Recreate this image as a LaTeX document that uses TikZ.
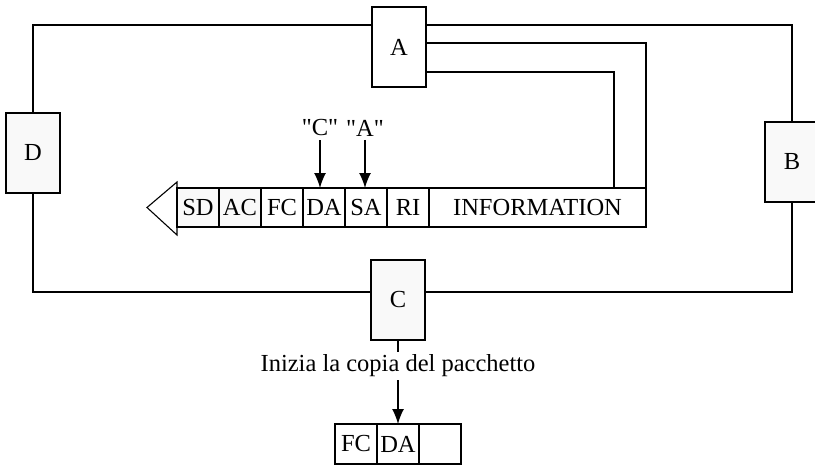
\documentclass[tikz,border=0pt]{standalone}
\usepackage{fontspec}
\setmainfont{Liberation Serif}
\usepackage{tikz}
\usetikzlibrary{arrows.meta,positioning,calc}

\tikzset{
  station/.style={draw,fill=gray!5,minimum width=54pt,minimum height=80pt,inner sep=0pt,outer sep=0pt},
  cell/.style={draw,minimum width=42pt,minimum height=39pt,inner sep=0pt,outer sep=0pt},
  arr/.style={-{Latex[length=15pt,width=12pt]},line width=1.4pt},
}

\begin{document}
\begin{tikzpicture}[x=1pt,y=-1pt,line width=1.1pt,node distance=0pt,
  font=\fontsize{24.5}{28}\selectfont]
\useasboundingbox (0,0) rectangle (815,466);
% stations on the ring
\node[station,fill=white] (a) at (399,47) {A};
\node[station] (d) at (33,153) {D};
\node[station] (b) at (792,162) {B};
\node[station] (c) at (398,300) {C};
\draw (a.west |- 0,25) -| (d.north);
\draw (d.south) |- (c.west |- 0,292);
\draw (c.east |- 0,292) -| (b.south);
\draw (b.north) |- (a.east |- 0,25);
% frame travelling on the ring
\node[cell,fill=gray!5] (sd) at (198,207.5) {SD};
\node[cell,fill=gray!5,right=of sd] (ac) {AC};
\node[cell,right=of ac] (fc) {FC};
\node[cell,right=of fc] (da) {DA};
\node[cell,right=of da] (sa) {SA};
\node[cell,right=of sa] (ri) {RI};
\node[cell,minimum width=217pt,right=of ri] (info) {INFORMATION};
\draw[line width=1.8pt] (info.north west) -- (info.south west);
\draw[line join=miter] ([yshift=6]sd.north west) -- ([xshift=-30]sd.west)
  -- ([yshift=-8]sd.south west) -- cycle;
\draw ([yshift=4]a.east) -| (info.south east);
\draw ([yshift=-25]a.east) -| ([xshift=-32]info.north east);
% addresses
\node (lc) at (320,128) {\textquotedbl C\textquotedbl};
\node (la) at (365,128) {\textquotedbl A\textquotedbl};
\draw[arr] (lc) -- (lc |- da.north);
\draw[arr] (la) -- (la |- sa.north);
% copy made by C
\node[cell,minimum height=40pt] (cda) at (398,444) {DA};
\node[cell,minimum height=40pt,left=of cda] (cfc) {FC};
\node[cell,minimum height=40pt,right=of cda] (cx) {};
\draw[arr] (c.south) -- (cda.north)
  node[pos=0.31,fill=white,inner sep=3pt] (copy) {Inizia la copia del pacchetto};
\end{tikzpicture}
\end{document}
